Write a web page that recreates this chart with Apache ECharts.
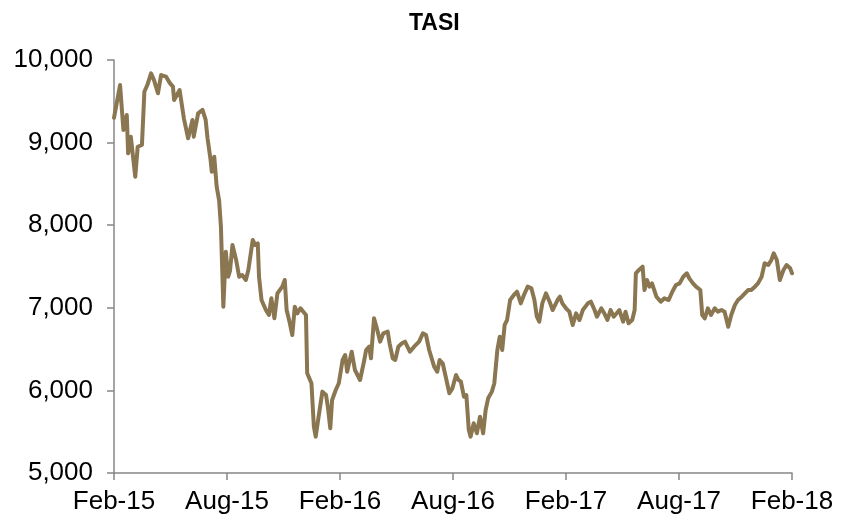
<!DOCTYPE html>
<html>
<head>
<meta charset="utf-8">
<script src="https://cdn.jsdelivr.net/npm/echarts@6/dist/echarts.min.js"></script>
<style>html,body{margin:0;padding:0;background:#fff}#c{width:842px;height:522px}</style>
</head>
<body>
<div id="c"></div>
<script>
const titleText = 'TASI';
const tickLabels = ['Feb-15','Aug-15','Feb-16','Aug-16','Feb-17','Aug-17','Feb-18'];
const dates = [
'2015-02-01','2015-02-10','2015-02-15','2015-02-20','2015-02-22','2015-02-26','2015-03-05','2015-03-09','2015-03-16','2015-03-20',
'2015-03-25','2015-03-31','2015-04-05','2015-04-11','2015-04-16','2015-04-24','2015-04-30','2015-05-05','2015-05-07','2015-05-16',
'2015-05-23','2015-05-25','2015-05-30','2015-06-06','2015-06-08','2015-06-15','2015-06-22','2015-06-27','2015-06-30','2015-07-05',
'2015-07-07','2015-07-11','2015-07-15','2015-07-19','2015-07-22','2015-07-26','2015-07-30','2015-08-03','2015-08-06','2015-08-10',
'2015-08-16','2015-08-21','2015-08-26','2015-09-01','2015-09-05','2015-09-12','2015-09-16','2015-09-20','2015-09-22','2015-09-26',
'2015-10-03','2015-10-08','2015-10-12','2015-10-17','2015-10-22','2015-10-30','2015-11-03','2015-11-06','2015-11-10','2015-11-15',
'2015-11-19','2015-11-23','2015-11-28','2015-12-07','2015-12-09','2015-12-16','2015-12-20','2015-12-23','2015-12-27','2016-01-03',
'2016-01-09','2016-01-12','2016-01-16','2016-01-19','2016-01-25','2016-01-30','2016-02-05','2016-02-09','2016-02-12','2016-02-19',
'2016-02-24','2016-03-03','2016-03-10','2016-03-13','2016-03-18','2016-03-21','2016-03-26','2016-03-30','2016-04-05','2016-04-10',
'2016-04-17','2016-04-20','2016-04-25','2016-04-29','2016-05-04','2016-05-10','2016-05-15','2016-05-19','2016-05-23','2016-05-30',
'2016-06-07','2016-06-13','2016-06-18','2016-06-23','2016-07-01','2016-07-06','2016-07-10','2016-07-15','2016-07-20','2016-07-26',
'2016-07-31','2016-08-06','2016-08-10','2016-08-14','2016-08-19','2016-08-23','2016-08-27','2016-08-30','2016-09-04','2016-09-09',
'2016-09-14','2016-09-19','2016-09-23','2016-09-27','2016-10-03','2016-10-07','2016-10-12','2016-10-16','2016-10-20','2016-10-24',
'2016-10-28','2016-11-02','2016-11-08','2016-11-13','2016-11-19','2016-11-24','2016-11-30','2016-12-06','2016-12-11','2016-12-15',
'2016-12-19','2016-12-24','2016-12-30','2017-01-05','2017-01-10','2017-01-18','2017-01-22','2017-01-26','2017-02-01','2017-02-06',
'2017-02-11','2017-02-16','2017-02-21','2017-02-26','2017-03-06','2017-03-11','2017-03-17','2017-03-21','2017-03-28','2017-04-02',
'2017-04-07','2017-04-12','2017-04-17','2017-04-20','2017-04-26','2017-05-02','2017-05-06','2017-05-11','2017-05-17','2017-05-21',
'2017-05-23','2017-05-28','2017-06-03','2017-06-06','2017-06-10','2017-06-14','2017-06-18','2017-06-25','2017-07-02','2017-07-08',
'2017-07-15','2017-07-21','2017-07-27','2017-08-02','2017-08-08','2017-08-14','2017-08-18','2017-08-24','2017-08-29','2017-09-05',
'2017-09-08','2017-09-12','2017-09-17','2017-09-22','2017-09-28','2017-10-03','2017-10-09','2017-10-14','2017-10-20','2017-10-25',
'2017-10-31','2017-11-05','2017-11-11','2017-11-16','2017-11-21','2017-11-26','2017-12-02','2017-12-07','2017-12-13','2017-12-18',
'2017-12-24','2017-12-29','2018-01-02','2018-01-07','2018-01-12','2018-01-18','2018-01-23','2018-01-29','2018-02-01'
];
const values = [
9300,9697,9153,9334,8870,9071,8587,8950,8971,9616,
9700,9839,9750,9597,9818,9798,9720,9677,9516,9637,
9294,9300,9052,9274,9072,9355,9395,9274,9052,8789,
8648,8829,8467,8300,7982,7013,7679,7376,7450,7760,
7579,7376,7397,7337,7458,7821,7760,7781,7376,7094,
6973,6913,7115,6873,7175,7256,7337,6973,6850,6671,
7013,6933,6994,6913,6207,6086,5560,5440,5642,5985,
5944,5802,5541,5884,6005,6086,6368,6429,6226,6469,
6247,6126,6368,6489,6529,6388,6873,6771,6590,6691,
6711,6570,6388,6368,6529,6570,6590,6529,6469,6529,
6590,6691,6671,6489,6287,6226,6368,6328,6166,5965,
6025,6186,6126,6105,5924,5944,5521,5440,5602,5481,
5682,5481,5763,5904,5985,6086,6489,6650,6489,6792,
6852,7094,7155,7195,7054,7155,7256,7236,7094,6892,
6832,7054,7175,7074,6973,7094,7134,7054,6994,6953,
6792,6933,6852,6973,7054,7074,6973,6892,6994,6933,
6852,6973,6892,6873,6973,6832,6953,6812,6852,6973,
7418,7458,7498,7215,7337,7256,7296,7134,7074,7115,
7094,7195,7276,7296,7376,7418,7357,7296,7256,7215,
6913,6873,6994,6913,6994,6953,6973,6953,6771,6913,
7034,7094,7134,7175,7215,7215,7256,7296,7376,7539,
7518,7579,7660,7579,7337,7458,7518,7478,7418
];

function monthPos(s) {
  const p = s.split('-').map(Number);
  const dim = new Date(p[0], p[1], 0).getDate();
  return (p[0] - 2015) * 12 + (p[1] - 2) + (p[2] - 1) / dim;
}
const seriesData = dates.map((d, i) => [monthPos(d), values[i]]);

const chart = echarts.init(document.getElementById('c'), null, {renderer: 'canvas'});
const axisColor = '#878787';
const fontFamily = '"Liberation Sans", Arial, sans-serif';
chart.setOption({
  animation: false,
  backgroundColor: '#ffffff',
  title: {
    text: titleText,
    left: 404,
    top: 7,
    textStyle: {fontFamily: fontFamily, fontSize: 23, fontWeight: 'bold', color: '#000'}
  },
  grid: {left: 114, right: 50, top: 60, bottom: 49, containLabel: false},
  xAxis: {
    type: 'value',
    min: 0, max: 36, interval: 6,
    axisLine: {show: true, lineStyle: {color: axisColor, width: 1.5}},
    axisTick: {show: true, inside: false, length: 7, lineStyle: {color: axisColor, width: 1.5}},
    splitLine: {show: false},
    axisLabel: {
      margin: 16,
      color: '#000',
      fontFamily: fontFamily,
      fontSize: 26,
      formatter: v => tickLabels[Math.round(v / 6)] || ''
    }
  },
  yAxis: {
    type: 'value',
    min: 5000, max: 10000, interval: 1000,
    axisLine: {show: true, lineStyle: {color: axisColor, width: 1.5}},
    axisTick: {show: true, inside: false, length: 7, lineStyle: {color: axisColor, width: 1.5}},
    splitLine: {show: false},
    axisLabel: {
      margin: 21,
      color: '#000',
      fontFamily: fontFamily,
      fontSize: 26,
      formatter: v => v.toLocaleString('en-US')
    }
  },
  series: [{
    type: 'line',
    data: seriesData,
    showSymbol: false,
    smooth: false,
    lineStyle: {color: '#8a7651', width: 4, join: 'round', cap: 'round'},
    itemStyle: {color: '#8a7651'}
  }]
});
</script>
</body>
</html>
